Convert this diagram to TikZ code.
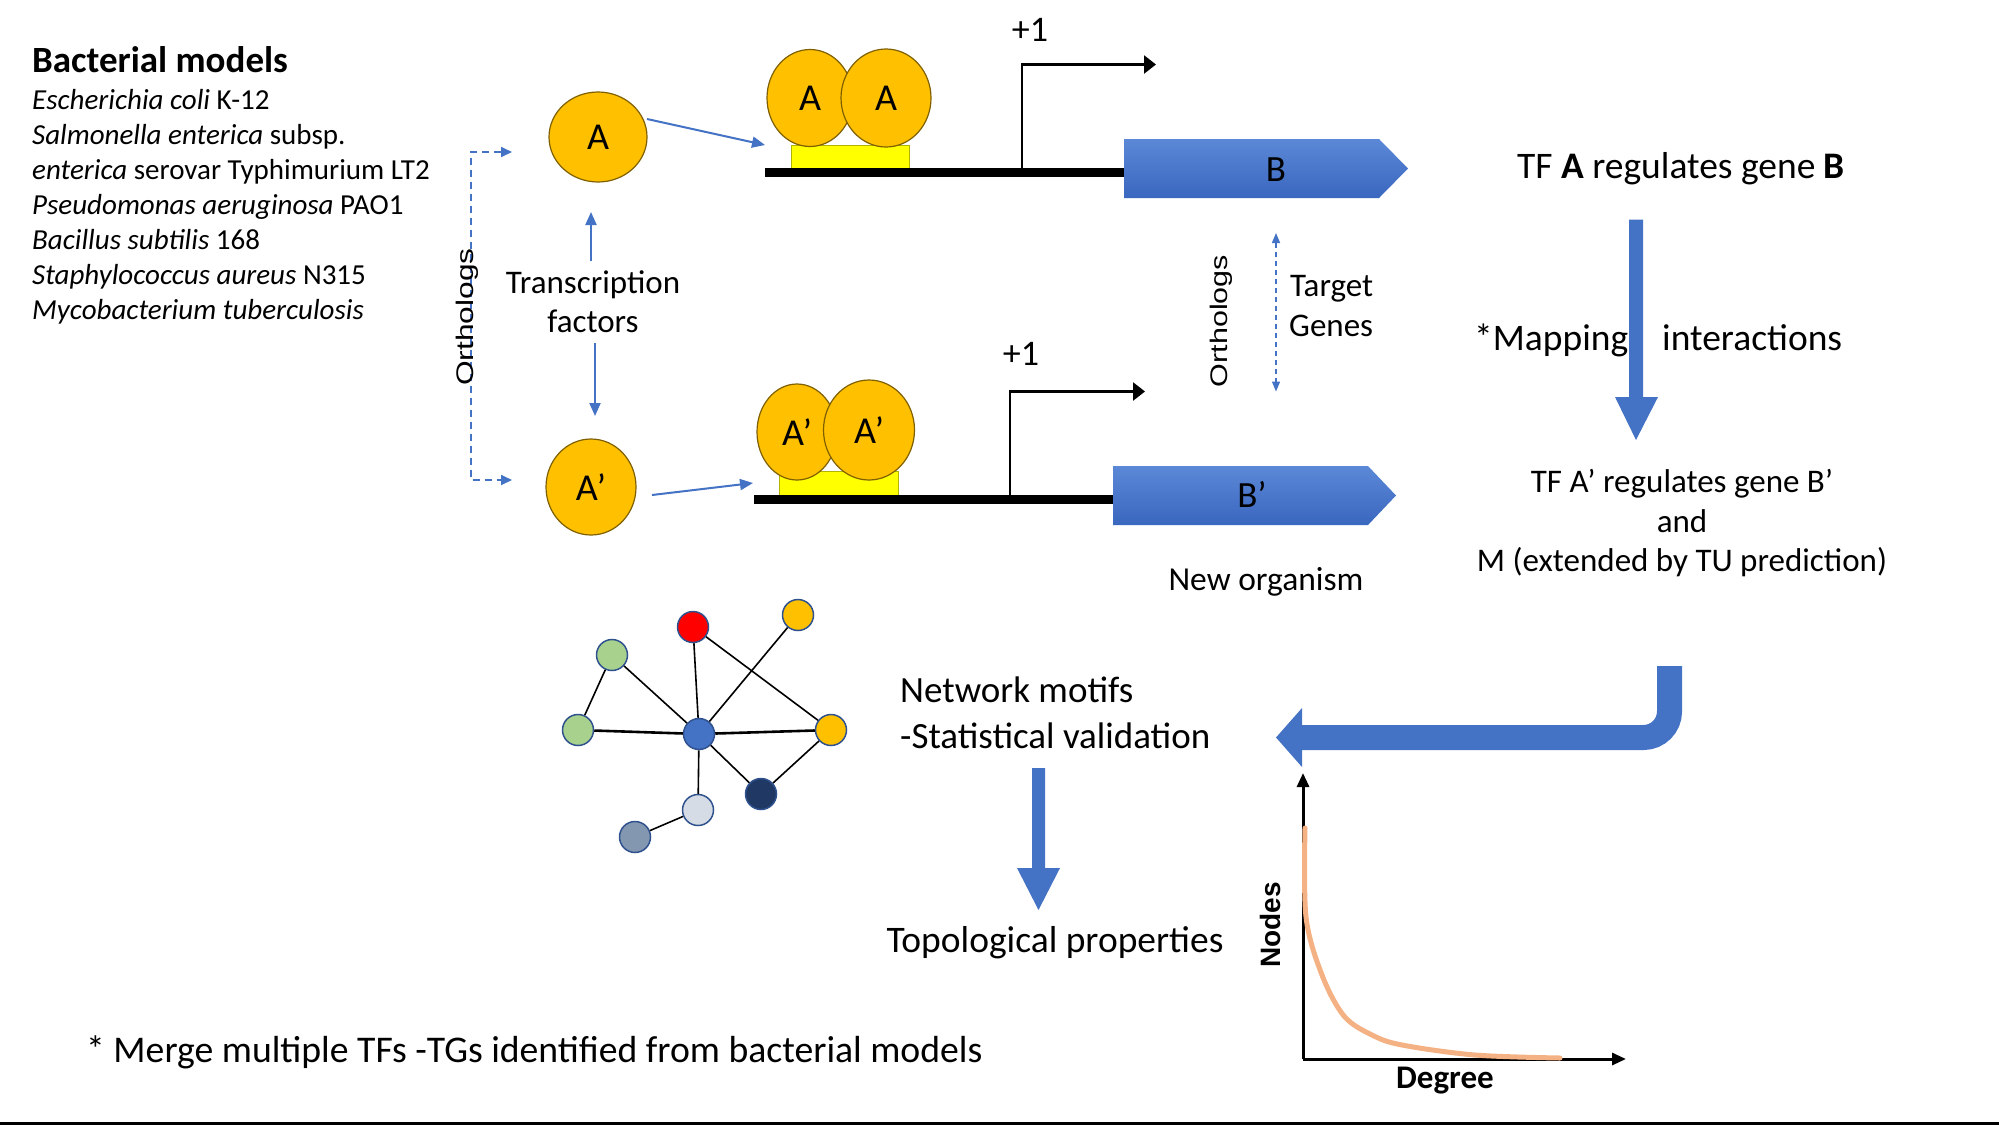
\documentclass[tikz,border=0pt]{standalone}
\usepackage{fontspec}
\usepackage{graphicx}
\setmainfont{Carlito}
\newfontfamily\arialfont{Liberation Sans}
\usetikzlibrary{arrows.meta,shapes.geometric}
\definecolor{tfyellow}{HTML}{FFC000}
\definecolor{tfline}{HTML}{7F6000}
\definecolor{accentblue}{HTML}{4472C4}
\definecolor{genetop}{HTML}{5B88D6}
\definecolor{genebot}{HTML}{3A67BF}
\definecolor{sitey}{HTML}{FFFF00}
\definecolor{curveor}{HTML}{F4B183}
\definecolor{nodeline}{HTML}{2F528F}
\definecolor{ngreen}{HTML}{A9D18E}
\definecolor{nnavy}{HTML}{203864}
\definecolor{nlight}{HTML}{D6DCE5}
\definecolor{ngray}{HTML}{8497B0}
\definecolor{nred}{HTML}{FF0000}
\newcommand\fs[1]{\fontsize{#1}{#1}\selectfont}
\begin{document}
\begin{tikzpicture}[x=1pt,y=-1pt,
  txt/.style={inner sep=0pt, anchor=base},
  txtl/.style={inner sep=0pt, anchor=base west},
  tf/.style={ellipse, draw=tfline, line width=1.2pt, fill=tfyellow, inner sep=0pt, font=\fs{38}},
  thinarrow/.style={accentblue, line width=2pt, -{Triangle[length=13pt,width=11pt]}},
  dasharrow/.style={accentblue, line width=1.8pt, dash pattern=on 7pt off 5pt},
  dna/.style={line width=9pt},
  tss/.style={line width=2.5pt, -{Triangle[length=12pt,width=18pt]}},
  gene/.style={top color=genetop, bottom color=genebot, draw=none},
  netnode/.style={circle, draw=nodeline, line width=1.5pt, minimum size=31pt, inner sep=0pt},
  netedge/.style={line width=1.6pt},
  axis/.style={line width=3pt, -{Triangle[length=14pt,width=12pt]}},
]
\useasboundingbox (0,0) rectangle (1999,1125);

% ---------- left text ----------
\node[txtl, font=\fs{37}\bfseries] (title) at (32,72) {Bacterial models};
\node[txtl, font=\fs{29}] (l1) at (32,109) {\textit{Escherichia coli} K-12};
\node[txtl, font=\fs{29}] (l2) at (32,144) {\textit{Salmonella enterica} subsp.};
\node[txtl, font=\fs{29}] (l3) at (32,179) {\textit{enterica} serovar Typhimurium LT2};
\node[txtl, font=\fs{29}] (l4) at (32,214) {\textit{Pseudomonas aeruginosa} PAO1};
\node[txtl, font=\fs{29}] (l5) at (32,249) {\textit{Bacillus subtilis} 168};
\node[txtl, font=\fs{29}] (l6) at (32,284) {\textit{Staphylococcus aureus} N315};
\node[txtl, font=\fs{29}] (l7) at (32,319) {\textit{Mycobacterium tuberculosis}};

% ---------- orthologs bracket (TFs) ----------
\coordinate (oTop) at (512,152);
\coordinate (oMid) at (471,316);
\coordinate (oBot) at (512,480);
\draw[dasharrow, {Triangle[length=11pt,width=10pt]}-{Triangle[length=11pt,width=10pt]}] (oTop) -| (oMid) |- (oBot);
\node[rotate=90, inner sep=0pt, font=\arialfont\fs{24}] (orthL) at (467,317) {\scalebox{1.32}[1]{Orthologs}};

% ---------- TF circles ----------
\node[tf, minimum width=98pt, minimum height=90pt] (A) at (598,137) {A};
\node[tf, minimum width=90pt, minimum height=96pt] (Ap) at (591,487) {A’};

\node[txt, font=\fs{33}] (tf1) at (593,293) {Transcription};
\node[txt, font=\fs{33}] (tf2) at (593,332) {factors};
\coordinate (tfu1) at (591,261); \coordinate (tfu2) at (591,212);
\coordinate (tfd1) at (595,343); \coordinate (tfd2) at (595,416);
\draw[thinarrow] (tfu1) -- (tfu2);
\draw[thinarrow] (tfd1) -- (tfd2);

% ---------- upper operon ----------
\draw[sitey!70!black, line width=0.8pt, fill=sitey] (791,145) rectangle (909,168);
\node[tf, minimum width=86pt, minimum height=97pt] (AA1) at (810,98) {A};
\node[tf, minimum width=90pt, minimum height=98pt] (AA2) at (886,98) {A};
\coordinate (a1s) at (647,119); \coordinate (a1e) at (765,145);
\draw[thinarrow] (a1s) -- (a1e);
\coordinate (dna1L) at (765,172.5); \coordinate (dna1R) at (1125,172.5);
\draw[dna] (dna1L) -- (dna1R);
\coordinate (tss1a) at (1022,172.5); \coordinate (tss1b) at (1156,64.5);
\draw[tss] (tss1a) |- (tss1b);
\node[txt, font=\fs{36}] (p1) at (1030,41) {+1};
\shade[gene] (1124,139) -- (1379,139) -- (1408,168.5) -- (1379,198) -- (1124,198) -- cycle;
\node[inner sep=0pt, font=\fs{37}] (gB) at (1276,170) {B};

% ---------- lower operon ----------
\draw[sitey!70!black, line width=0.8pt, fill=sitey] (779,471) rectangle (898,495);
\node[tf, minimum width=80pt, minimum height=96pt] (AB1) at (797,432) {A’};
\node[tf, minimum width=91pt, minimum height=100pt] (AB2) at (869,430) {A’};
\coordinate (a2s) at (652,495); \coordinate (a2e) at (753,483);
\draw[thinarrow] (a2s) -- (a2e);
\coordinate (dna2L) at (754,499); \coordinate (dna2R) at (1114,499);
\draw[dna] (dna2L) -- (dna2R);
\coordinate (tss2a) at (1010,499); \coordinate (tss2b) at (1145,391.5);
\draw[tss] (tss2a) |- (tss2b);
\node[txt, font=\fs{36}] (p2) at (1021,365) {+1};
\shade[gene] (1113,466) -- (1368,466) -- (1396,495.5) -- (1368,525) -- (1113,525) -- cycle;
\node[inner sep=0pt, font=\fs{37}] (gBp) at (1252,494) {B’};

% ---------- target genes orthologs ----------
\node[rotate=90, inner sep=0pt, font=\arialfont\fs{24}] (orthR) at (1221,321) {\scalebox{1.27}[1]{Orthologs}};
\coordinate (tg1) at (1276,233); \coordinate (tg2) at (1276,391.5);
\draw[dasharrow, line width=1.5pt, dash pattern=on 5pt off 4pt, {Triangle[length=10pt,width=8pt]}-{Triangle[length=10pt,width=8pt]}] (tg1) -- (tg2);
\node[txtl, font=\fs{33}] (tgA) at (1290,296.5) {Target};
\node[txtl, font=\fs{33}] (tgB) at (1289,336) {Genes};
\node[txt, font=\fs{33.5}] (neworg) at (1266,590) {New organism};

% ---------- right column ----------
\node[txt, font=\fs{37.5}] (reg1) at (1681,178) {TF \textbf{A} regulates gene \textbf{B}};
\fill[accentblue] (1629,219.5) -- (1643,219.5) -- (1643,397) -- (1658,397) -- (1636,440) -- (1615,397) -- (1629,397) -- cycle;
\node[txtl, font=\fs{37.5}] (map1) at (1474,350) {*Mapping};
\node[txtl, font=\fs{37.5}] (map2) at (1662,350) {interactions};
\node[txt, font=\fs{33}] (reg2) at (1682,492) {TF A’ regulates gene B’};
\node[txt, font=\fs{33}] (reg3) at (1682,532) {and};
\node[txt, font=\fs{33}] (reg4) at (1682,571) {M (extended by TU prediction)};

% ---------- bent arrow ----------
\coordinate (bentS) at (1669.5,666);
\coordinate (bentE) at (1301,737.5);
\draw[accentblue, line width=25pt, rounded corners=26pt] (bentS) |- (bentE);
\fill[accentblue] (1302,708) -- (1276,737.5) -- (1302,767) -- cycle;

% ---------- network ----------
\node[netnode, fill=nred] (nr) at (693,627) {};
\node[netnode, fill=tfyellow] (nyt) at (798,615) {};
\node[netnode, fill=ngreen] (ngt) at (612,655) {};
\node[netnode, fill=ngreen] (ngl) at (578,730) {};
\node[netnode, fill=accentblue] (nc) at (699,734) {};
\node[netnode, fill=tfyellow] (nyr) at (831,730) {};
\node[netnode, fill=nnavy] (nn) at (761,794) {};
\node[netnode, fill=nlight] (nl) at (698,810) {};
\node[netnode, fill=ngray] (ng) at (635,837) {};
\draw[netedge] (ngt) -- (ngl);
\draw[netedge] (ngt) -- (nc);
\draw[netedge] (nr) -- (nc);
\draw[netedge] (nr) -- (nyr);
\draw[netedge] (nyt) -- (nc);
\draw[netedge, line width=2.6pt] (ngl) -- (nc);
\draw[netedge, line width=2.6pt] (nc) -- (nyr);
\draw[netedge] (nc) -- (nl);
\draw[netedge] (nc) -- (nn);
\draw[netedge] (nn) -- (nyr);
\draw[netedge] (nl) -- (ng);

\node[txtl, font=\fs{37}] (mot1) at (900,702) {Network motifs};
\node[txtl, font=\fs{37}] (mot2) at (900,748) {-Statistical validation};
\fill[accentblue] (1032,768) -- (1045,768) -- (1045,868) -- (1060,868) -- (1038.5,910) -- (1017,868) -- (1032,868) -- cycle;
\node[txt, font=\fs{37.5}] (topo) at (1055,952) {Topological properties};

% ---------- degree chart ----------
\coordinate (orig) at (1303,1059);
\coordinate (yend) at (1303,773);
\coordinate (xend) at (1626,1059);
\draw[axis] (orig) -- (yend);
\draw[axis] (orig) -- (xend);
\draw[curveor, line width=5pt, line cap=round] plot[smooth, tension=0.55] coordinates {(1305,828) (1306,917) (1322,975) (1344,1016) (1372,1035) (1402,1045) (1475,1055) (1560,1058)};
\node[rotate=90, inner sep=0pt, font=\arialfont\bfseries\fs{28}] (nodesl) at (1270,925) {Nodes};
\node[txt, font=\fs{33}\bfseries] (deg) at (1445,1088) {Degree};

% ---------- footnote ----------
\node[txtl, font=\fs{37.7}] (merge) at (86,1062) {* Merge multiple TFs -TGs identified from bacterial models};
\coordinate (bl) at (0,1123.5); \coordinate (br) at (1999,1123.5);
\draw[line width=3pt] (bl) -- (br);
\end{tikzpicture}
\end{document}
